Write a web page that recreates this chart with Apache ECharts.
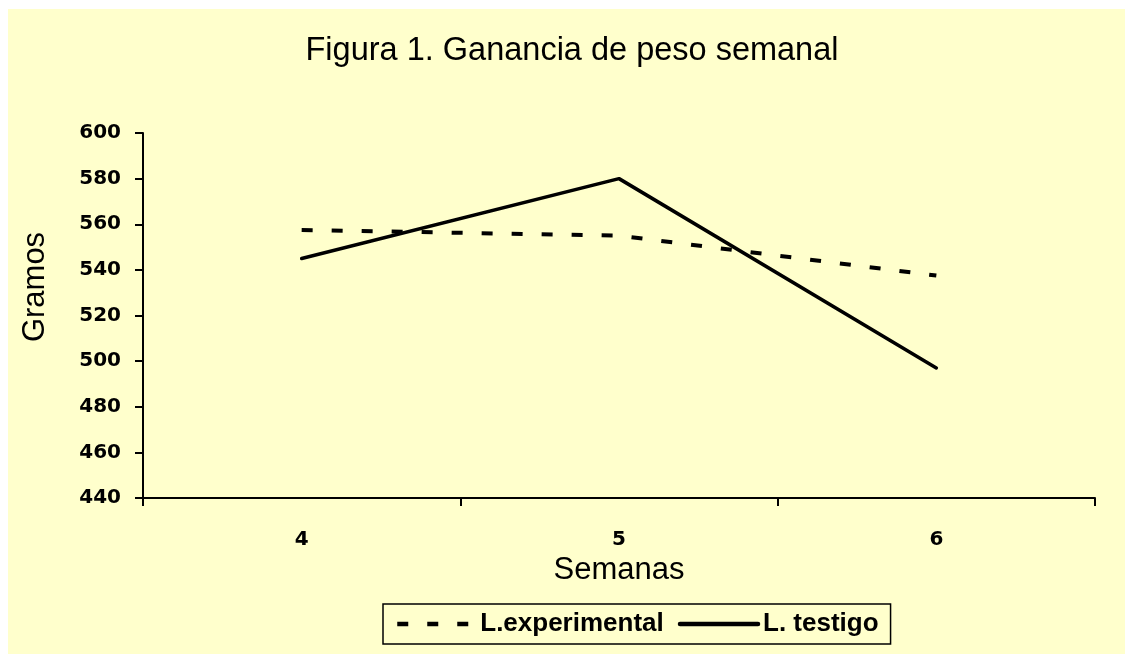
<!DOCTYPE html>
<html>
<head>
<meta charset="utf-8">
<script src="https://cdn.jsdelivr.net/npm/echarts@6/dist/echarts.min.js"></script>
<style>
  html, body { margin: 0; padding: 0; background: #ffffff; }
  #wrap { position: relative; width: 1125px; height: 654px; }
  #bg { position: absolute; left: 8px; top: 9px; right: 0; bottom: 0; background: #FFFFCC; }
  #chart { position: absolute; left: 0; top: 0; width: 1125px; height: 654px; }
</style>
</head>
<body>
<div id="wrap"><div id="bg"></div><div id="chart"></div></div>
<script>
const titleText = 'Figura 1. Ganancia de peso semanal';
const categories = ['4', '5', '6'];
const seriesNames = ['L.experimental', 'L. testigo'];
const experimental = [557.5, 555, 537.5];
const testigo = [545, 580, 497];
const yMin = 440, yMax = 600, yStep = 20;

const chart = echarts.init(document.getElementById('chart'), null, { renderer: 'canvas' });
const arial = '"Liberation Sans", Arial, sans-serif';
const tickFont = '"DejaVu Sans", sans-serif';
chart.setOption({
  animation: false,
  title: {
    text: titleText,
    left: 567, top: 30, textAlign: 'center',
    textStyle: { fontFamily: arial, fontSize: 32.5, fontWeight: 'normal', color: '#000' }
  },
  grid: { left: 143, right: 30, top: 133, bottom: 156, containLabel: false },
  legend: {
    left: 383, top: 604,
    data: seriesNames,
    itemWidth: 78, itemHeight: 14, itemGap: 14,
    padding: [7, 12],
    borderColor: '#000', borderWidth: 1.5,
    itemStyle: { opacity: 0 },
    lineStyle: { width: 4.5 },
    textStyle: { fontFamily: arial, fontSize: 26, fontWeight: 'bold', color: '#000' }
  },
  xAxis: {
    type: 'category',
    data: categories,
    boundaryGap: true,
    name: 'Semanas',
    nameLocation: 'middle',
    nameGap: 41,
    nameTextStyle: { fontFamily: arial, fontSize: 31, color: '#000' },
    axisLine: { lineStyle: { color: '#000', width: 2 } },
    axisTick: { show: true, interval: 0, length: 8, lineStyle: { color: '#000', width: 2 } },
    axisLabel: { margin: 32, fontFamily: tickFont, fontWeight: 'bold', fontSize: 20, color: '#000' },
    splitLine: { show: false }
  },
  yAxis: {
    type: 'value',
    min: yMin, max: yMax, interval: yStep,
    axisLine: { show: true, lineStyle: { color: '#000', width: 2 } },
    axisTick: { show: true, length: 8, lineStyle: { color: '#000', width: 2 } },
    axisLabel: { margin: 22, fontFamily: tickFont, fontWeight: 'bold', fontSize: 20, color: '#000' },
    splitLine: { show: false }
  },
  graphic: [{
    type: 'text',
    x: 35, y: 287,
    rotation: Math.PI / 2,
    style: {
      text: 'Gramos',
      font: '31px "Liberation Sans", Arial, sans-serif',
      fill: '#000',
      align: 'center',
      verticalAlign: 'middle'
    }
  }],
  series: [
    {
      name: seriesNames[0], type: 'line', data: experimental,
      symbol: 'none', color: '#000',
      lineStyle: { color: '#000', width: 4, type: [11, 19], cap: 'butt' }
    },
    {
      name: seriesNames[1], type: 'line', data: testigo,
      symbol: 'none', color: '#000',
      lineStyle: { color: '#000', width: 3.5, type: 'solid', cap: 'round' }
    }
  ]
});
</script>
</body>
</html>
